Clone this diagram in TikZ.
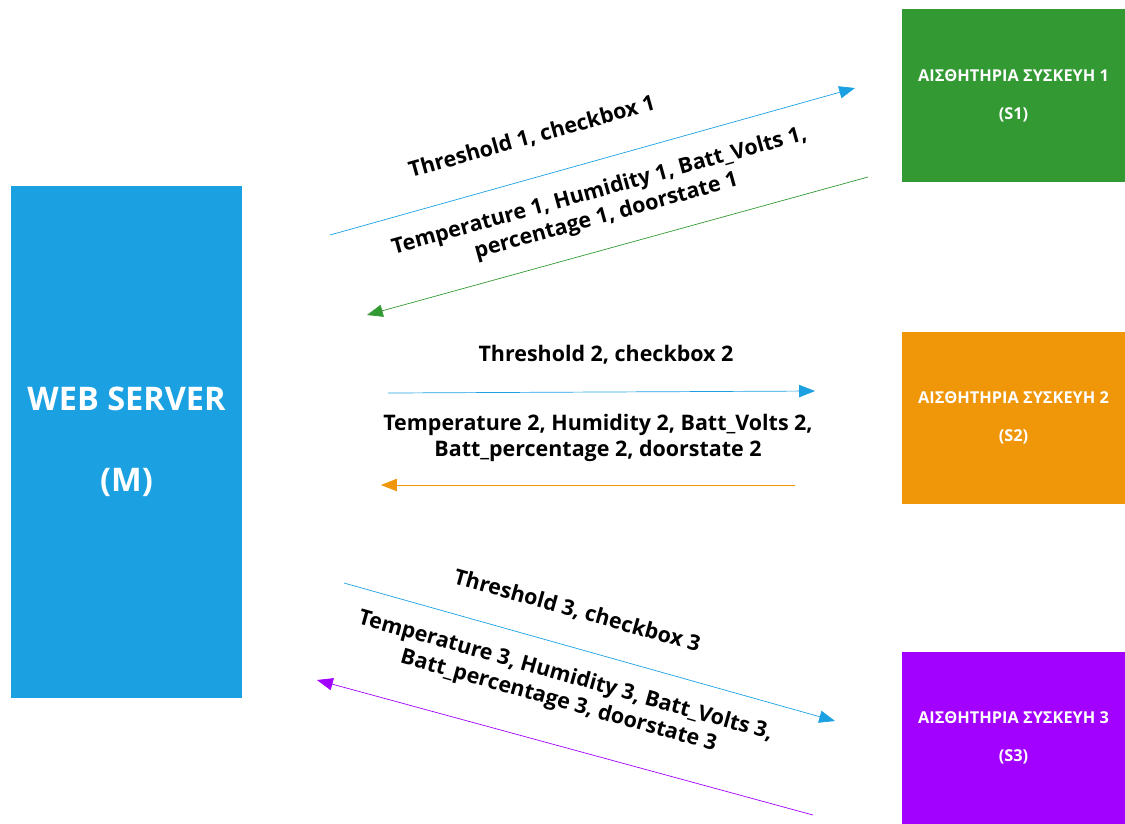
\documentclass[tikz,border=0pt]{standalone}
\usepackage{fontspec}
\setmainfont{Open Sans}
\usepackage{tikz}
\usetikzlibrary{arrows.meta,positioning}
\definecolor{srvblue}{HTML}{1BA1E2}
\definecolor{devgreen}{HTML}{339933}
\definecolor{devorange}{HTML}{F09609}
\definecolor{devpurple}{HTML}{A200FF}
\tikzset{>={Triangle[length=9pt,width=7pt]}}
\tikzset{server node/.style={rectangle,fill=srvblue,draw=none,text=white,font=\bfseries\fontsize{18.5}{22}\selectfont,
             minimum width=4.62cm,minimum height=10.24cm,align=center,inner sep=0pt},
         device node/.style={rectangle,draw=none,text=white,font=\bfseries\fontsize{9.3}{11}\selectfont,
             minimum width=4.46cm,minimum height=3.46cm,align=center,inner sep=0pt},
         msg/.style={font=\bfseries\fontsize{12.2}{14.8}\selectfont,align=center,inner sep=0pt},
            }

\begin{document}
\begin{tikzpicture}[x=0.02cm,y=-0.02cm]
    \useasboundingbox (0,0) rectangle (1125,823);

    \node[server node] (M) at (126.5,442) {WEB SERVER\\[24pt](M)};
    \node[device node,fill=devgreen] (S1) at (1013.5,95.5) {ΑΙΣΘΗΤΗΡΙΑ ΣΥΣΚΕΥΗ 1\\[10.6pt](S1)};
    \node[device node,fill=devorange] (S2) at (1013.5,418) {ΑΙΣΘΗΤΗΡΙΑ ΣΥΣΚΕΥΗ 2\\[10.6pt](S2)};
    \node[device node,fill=devpurple] (S3) at (1013.5,738) {ΑΙΣΘΗΤΗΡΙΑ ΣΥΣΚΕΥΗ 3\\[10.6pt](S3)};

    % ends of the arrows
    \coordinate (a1) at (330,235);
    \coordinate (b1) at (855,88);
    \coordinate (c1) at (868,177);
    \coordinate (d1) at (367,315);
    \coordinate (a2) at (388,393);
    \coordinate (b2) at (815,391);
    \coordinate (c2) at (795,485);
    \coordinate (d2) at (381,485);
    \coordinate (a3) at (344,583);
    \coordinate (b3) at (835,721);
    \coordinate (c3) at (813,815);
    \coordinate (d3) at (317,680);

    \draw[->,srvblue] (a1) -- (b1);
    \draw[->,devgreen] (c1) -- (d1);
    \draw[->,srvblue] (a2) -- (b2);
    \draw[->,devorange] (c2) -- (d2);
    \draw[->,srvblue] (a3) -- (b3);
    \draw[->,devpurple] (c3) -- (d3);

    \node[msg,rotate=15.6] (t1) at (532,137) {Threshold 1, checkbox 1};
    \node[msg,rotate=15.5] (v1) at (603,204) {Temperature 1, Humidity 1, Batt\_Volts 1,\\percentage 1, doorstate 1};
    \node[msg] (t2) at (606,355) {Threshold 2, checkbox 2};
    \node[msg] (v2) at (598,438) {Temperature 2, Humidity 2, Batt\_Volts 2,\\Batt\_percentage 2, doorstate 2};
    \node[msg,rotate=-15.7] (t3) at (577,611) {Threshold 3, checkbox 3};
    \node[msg,rotate=-15.7] (v3) at (562,689) {Temperature 3, Humidity 3, Batt\_Volts 3,\\Batt\_percentage 3, doorstate 3};

\end{tikzpicture}
\end{document}
